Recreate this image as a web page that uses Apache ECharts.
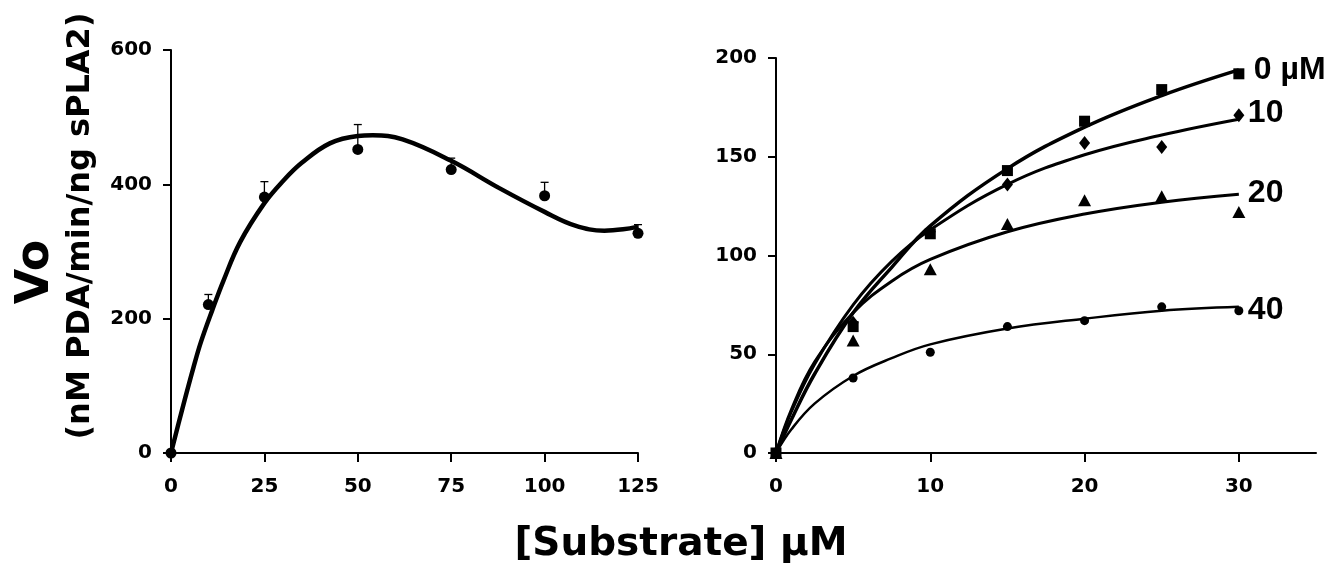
<!DOCTYPE html>
<html>
<head>
  <meta charset="utf-8">
</head>
<body style="margin: 0; background: #fff">
  <div id="container" style="width: 1330px; height: 565px"></div>

  <script type="text/javascript" src="https://fastly.jsdelivr.net/npm/echarts@6/dist/echarts.min.js"></script>

  <script type="text/javascript">
    var dom = document.getElementById('container');
    var myChart = echarts.init(dom, null, { renderer: 'canvas' });

    // left panel: single substrate curve with error bars
    const leftX = [0, 10, 25, 50, 75, 100, 125];
    const leftY = [0, 221, 381, 452, 422, 383, 327];
    const leftErr = [0, 15, 23, 37, 17, 20, 13];
    const leftFitX = [0, 3, 6, 8, 11, 14, 18.5, 25, 30, 35, 42.5, 50, 54, 62, 75, 88, 100, 108, 116, 121, 125];
    const leftFitY = [0, 65, 127, 165, 212, 256, 314, 372, 405, 432, 461, 472, 473, 467, 435, 394, 359, 339, 331, 333, 337];

    // right panel: inhibitor series 0/10/20/40 uM
    const subX = [0, 5, 10, 15, 20, 25, 30];
    const pts0 = [0, 64, 111, 143, 168, 184, 192];
    const pts10 = [0, 66, 112, 136, 157, 155, 171];
    const pts20 = [0, 57, 93, 116, 128, 130, 122];
    const pts40 = [0, 38, 51, 64, 67, 74, 72];

    const fitX = [0, 1, 2.5, 5, 7.5, 10, 15, 20, 25, 30];
    const fit0 = [0, 17, 40, 71, 94, 115, 144, 165, 181, 194];
    const fit10 = [0, 21, 45, 75, 97, 113, 136, 151, 161, 169];
    const fit20 = [0, 22, 46, 71, 87, 98, 112, 121, 127, 131];
    const fit40 = [0, 12, 25, 39, 48, 55, 63, 68, 72, 74];

    const endLabels = ['0 µM', '10', '20', '40'];

    const leftTicks = [0, 25, 50, 75, 100, 125];
    const rightTicks = [0, 10, 20, 30];

    function pairs(xs, ys) {
      return xs.map(function (x, i) { return [x, ys[i]]; });
    }

    const tickFont = {
      color: '#000',
      fontFamily: 'DejaVu Sans',
      fontWeight: 'bold',
      fontSize: 20
    };

    function axisBase() {
      return {
        axisLine: { show: true, onZero: false, lineStyle: { color: '#000', width: 2 } },
        axisTick: { show: true, inside: false, length: 8, lineStyle: { color: '#000', width: 2 } },
        splitLine: { show: false }
      };
    }

    function fitLine(name, data, width, label, dy, dist) {
      return {
        name: name,
        type: 'line',
        xAxisIndex: 1,
        yAxisIndex: 1,
        data: data,
        smooth: 0.4,
        showSymbol: false,
        lineStyle: { color: '#000', width: width },
        endLabel: {
          show: true,
          formatter: label,
          color: '#000',
          fontFamily: 'Liberation Sans',
          fontWeight: 'bold',
          fontSize: 32,
          distance: dist,
          offset: [0, dy]
        },
        z: 3
      };
    }

    function pointSeries(name, data, symbol, size) {
      return {
        name: name,
        type: 'scatter',
        xAxisIndex: 1,
        yAxisIndex: 1,
        data: data,
        symbol: symbol,
        symbolSize: size,
        itemStyle: { color: '#000', opacity: 1 },
        z: 4
      };
    }

    var option = {
      animation: false,
      backgroundColor: '#fff',
      grid: [
        { left: 171, top: 50, width: 467, height: 403 },
        { left: 776, top: 58, width: 540, height: 395 }
      ],
      xAxis: [
        Object.assign(axisBase(), {
          type: 'value', gridIndex: 0, min: 0, max: 125, interval: 25,
          axisTick: { show: true, length: 9, lineStyle: { color: '#000', width: 2 }, customValues: leftTicks },
          axisLabel: Object.assign({ margin: 24, customValues: leftTicks }, tickFont)
        }),
        Object.assign(axisBase(), {
          type: 'value', gridIndex: 1, min: 0, max: 35, interval: 10,
          axisTick: { show: true, length: 9, lineStyle: { color: '#000', width: 2 }, customValues: rightTicks },
          axisLabel: Object.assign({ margin: 24, customValues: rightTicks }, tickFont)
        })
      ],
      yAxis: [
        Object.assign(axisBase(), {
          type: 'value', gridIndex: 0, min: 0, max: 600, interval: 200,
          axisLabel: Object.assign({ margin: 19 }, tickFont)
        }),
        Object.assign(axisBase(), {
          type: 'value', gridIndex: 1, min: 0, max: 200, interval: 50,
          axisLabel: Object.assign({ margin: 19 }, tickFont)
        })
      ],
      graphic: [
        {
          type: 'text', x: 36, y: 272, rotation: Math.PI / 2,
          style: {
            text: 'Vo', fill: '#000', font: 'bold 46px "DejaVu Sans"',
            align: 'center', verticalAlign: 'middle'
          }
        },
        {
          type: 'text', x: 81, y: 226, rotation: Math.PI / 2,
          style: {
            text: '(nM PDA/min/ng sPLA2)', fill: '#000', font: 'bold 32px "DejaVu Sans"',
            align: 'center', verticalAlign: 'middle'
          }
        },
        {
          type: 'text', x: 681, y: 545,
          style: {
            text: '[Substrate] µM', fill: '#000', font: 'bold 39px "DejaVu Sans"',
            align: 'center', verticalAlign: 'middle'
          }
        }
      ],
      series: [
        {
          name: 'fit',
          type: 'line',
          xAxisIndex: 0,
          yAxisIndex: 0,
          data: pairs(leftFitX, leftFitY),
          smooth: 0.4,
          showSymbol: false,
          lineStyle: { color: '#000', width: 4.5 },
          z: 3
        },
        {
          name: 'err',
          type: 'custom',
          xAxisIndex: 0,
          yAxisIndex: 0,
          data: leftX.map(function (x, i) { return [x, leftY[i], leftErr[i]]; }),
          renderItem: function (params, api) {
            var x = api.value(0), y = api.value(1), e = api.value(2);
            if (!e) return;
            var p0 = api.coord([x, y]);
            var p1 = api.coord([x, y + e]);
            return {
              type: 'group',
              children: [
                { type: 'line', shape: { x1: p0[0], y1: p0[1], x2: p1[0], y2: p1[1] }, style: { stroke: '#000', lineWidth: 1.3 } },
                { type: 'line', shape: { x1: p1[0] - 4, y1: p1[1], x2: p1[0] + 4, y2: p1[1] }, style: { stroke: '#000', lineWidth: 1.3 } }
              ]
            };
          },
          z: 2
        },
        {
          name: 'pts',
          type: 'scatter',
          xAxisIndex: 0,
          yAxisIndex: 0,
          data: pairs(leftX, leftY),
          symbol: 'circle',
          symbolSize: 11,
          itemStyle: { color: '#000', opacity: 1 },
          z: 4
        },
        fitLine('0', pairs(fitX, fit0), 3.5, endLabels[0], 0, 15),
        fitLine('10', pairs(fitX, fit10), 3, endLabels[1], -6, 9),
        fitLine('20', pairs(fitX, fit20), 3, endLabels[2], -1, 9),
        fitLine('40', pairs(fitX, fit40), 2.5, endLabels[3], 3, 9),
        pointSeries('p0', pairs(subX, pts0), 'rect', 11),
        pointSeries('p10', pairs(subX, pts10), 'diamond', [11, 14]),
        pointSeries('p20', pairs(subX, pts20), 'triangle', [13, 12]),
        pointSeries('p40', pairs(subX, pts40), 'circle', 9)
      ]
    };

    myChart.setOption(option);
    window.addEventListener('resize', myChart.resize);
  </script>
</body>
</html>
